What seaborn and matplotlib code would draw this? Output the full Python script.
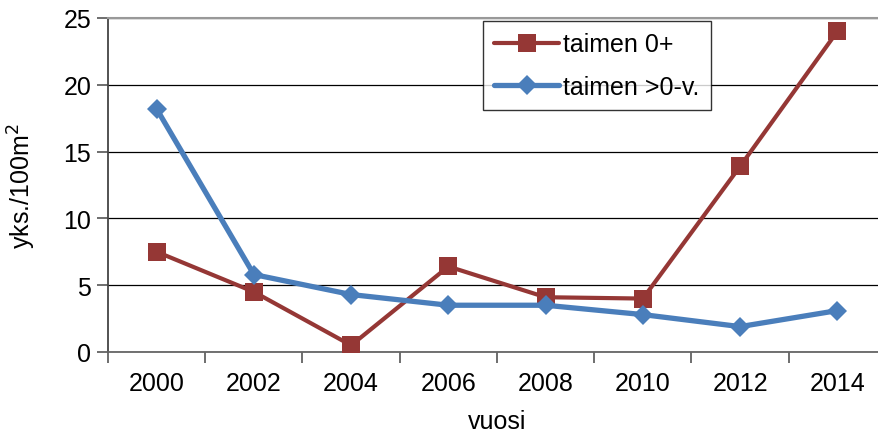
import matplotlib
matplotlib.use("Agg")
import matplotlib.pyplot as plt
import seaborn as sns
import numpy as np
import pandas as pd

years = ["2000", "2002", "2004", "2006", "2008", "2010", "2012", "2014"]
taimen_0 = [7.5, 4.5, 0.5, 6.4, 4.1, 4.0, 13.9, 24.0]
taimen_yli0 = [18.2, 5.8, 4.3, 3.5, 3.5, 2.8, 1.9, 3.1]

red = "#953735"
blue = "#4a7ebb"

sns.set_theme(style="white")
plt.rcParams["font.family"] = ["Liberation Sans", "DejaVu Sans"]
plt.rcParams["text.color"] = "black"
plt.rcParams["axes.labelcolor"] = "black"
plt.rcParams["xtick.labelcolor"] = "black"
plt.rcParams["ytick.labelcolor"] = "black"

df = pd.DataFrame({"vuosi": years, "taimen 0+": taimen_0, "taimen >0-v.": taimen_yli0})

fig = plt.figure(figsize=(8.79, 4.35), dpi=100)
ax = fig.add_axes([108 / 879, 1 - 353 / 435, 778 / 879, 334 / 435])

sns.lineplot(data=df, x="vuosi", y="taimen 0+", ax=ax, color=red, lw=3.0,
             marker="s", markersize=13, markeredgewidth=0, label="taimen 0+",
             zorder=3)
sns.lineplot(data=df, x="vuosi", y="taimen >0-v.", ax=ax, color=blue, lw=3.8,
             marker="D", markersize=10.5, markeredgewidth=0, label="taimen >0-v.",
             zorder=4)

ax.set_ylim(0, 25)
ax.set_xlim(-0.5, len(years) - 0.5)
ax.set_yticks(np.arange(0, 26, 5))
ax.set_xticks(np.arange(len(years)))
ax.set_xticklabels(years)
ax.set_xticks(np.arange(len(years) + 1) - 0.5, minor=True)
ax.tick_params(axis="x", which="major", length=0, pad=14, labelsize=18)
ax.tick_params(axis="x", which="minor", length=8, width=1.2, color="#555555", direction="out", bottom=True)
ax.tick_params(axis="y", length=8, width=1.2, color="#555555", direction="out", left=True, pad=4, labelsize=18)

ax.yaxis.grid(True, color="black", lw=0.9)
ax.set_axisbelow(True)
ax.spines["right"].set_visible(False)
ax.spines["left"].set_color("#444444")
ax.spines["left"].set_linewidth(1.3)
ax.spines["bottom"].set_color("#666666")
ax.spines["bottom"].set_linewidth(1.3)
ax.spines["top"].set_color("#999999")
ax.spines["top"].set_linewidth(1.5)

ax.set_xlabel("vuosi", fontsize=18, labelpad=10)
ax.set_ylabel("yks./100m$^2$", fontsize=18, labelpad=18)

leg = ax.legend(loc="upper left", bbox_to_anchor=((483 - 108) / 778, 1 - 3 / 334),
                bbox_transform=ax.transAxes, fontsize=18, frameon=True, fancybox=False,
                handlelength=2.6, handletextpad=0.15, borderpad=0.45, labelspacing=0.75,
                borderaxespad=0)
leg.get_frame().set_edgecolor("black")
leg.get_frame().set_linewidth(1.0)

fig.savefig("out.png", dpi=100)
plt.close(fig)
